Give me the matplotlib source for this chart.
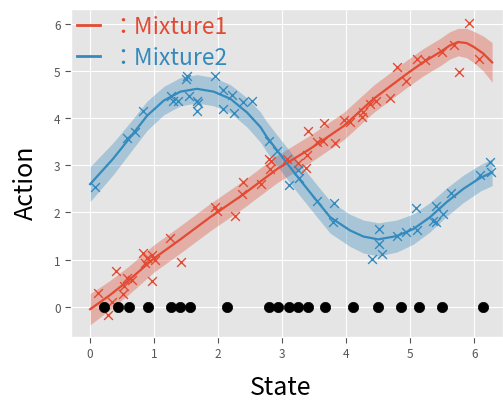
import numpy as np
import matplotlib
matplotlib.use("Agg")
import matplotlib.pyplot as plt

plt.style.use("ggplot")
plt.rcParams['font.family'] = ['Noto Sans CJK JP', 'DejaVu Sans']

# ---- fitted mean curves ----
red_x = [0.0, 0.3, 0.6, 1.0, 1.4, 1.875, 2.4, 2.92, 3.44, 3.96, 4.43, 4.95, 5.2, 5.47, 5.62, 5.75, 5.88, 5.99, 6.14, 6.28]
red_y = [-0.05, 0.24, 0.56, 1.03, 1.42, 1.90, 2.39, 2.92, 3.35, 3.83, 4.41, 4.94, 5.18, 5.40, 5.54, 5.61, 5.59, 5.51, 5.37, 5.18]
red_sd = [0.33, 0.31, 0.30, 0.29, 0.29, 0.29, 0.29, 0.29, 0.29, 0.29, 0.29, 0.29, 0.29, 0.29, 0.29, 0.29, 0.31, 0.33, 0.37, 0.42]

blue_x = [0.0, 0.36, 0.625, 0.89, 1.15, 1.41, 1.67, 1.93, 2.19, 2.45, 2.66, 2.76, 3.02, 3.25, 3.54, 3.75, 4.06, 4.27, 4.5,
          4.79, 5.05, 5.31, 5.57, 5.83, 6.09, 6.28]
blue_y = [2.60, 3.14, 3.59, 4.05, 4.37, 4.56, 4.62, 4.56, 4.41, 4.12, 3.81, 3.60, 3.14, 2.74, 2.25, 1.90, 1.62, 1.49, 1.43,
          1.50, 1.65, 1.90, 2.22, 2.50, 2.73, 2.85]
blue_sd = [0.37, 0.34, 0.32, 0.31, 0.30, 0.30, 0.30, 0.30, 0.30, 0.31, 0.32, 0.32, 0.33, 0.34, 0.34, 0.34, 0.34, 0.35, 0.35,
           0.34, 0.32, 0.31, 0.30, 0.29, 0.28, 0.28]

# ---- observations ----
red_obs_x = [0.13, 0.28, 0.34, 0.41, 0.51, 0.53, 0.57, 0.65, 0.83, 0.85, 0.89, 0.96, 1.02, 0.97, 1.25, 1.42,
             1.95, 1.98, 2.27, 2.37, 2.39, 2.67, 2.79, 2.82, 2.81, 3.07, 3.24, 3.39, 3.38, 3.40, 3.54, 3.64, 3.66,
             3.82, 3.96, 4.06, 4.24, 4.27, 4.38, 4.47, 4.68, 4.79, 4.93, 5.11, 5.23, 5.50, 5.69, 5.77, 5.92, 6.08]
red_obs_y = [0.30, -0.17, 0.10, 0.76, 0.28, 0.45, 0.61, 0.56, 1.14, 0.93, 1.03, 1.09, 1.00, 0.54, 1.46, 0.96,
             2.11, 2.04, 1.93, 2.39, 2.65, 2.61, 3.14, 3.10, 2.92, 3.14, 3.05, 3.21, 2.94, 3.72, 3.49, 3.52, 3.90,
             3.47, 3.95, 3.91, 4.02, 4.12, 4.30, 4.37, 4.42, 5.08, 4.79, 5.25, 5.23, 5.40, 5.54, 4.97, 6.01, 5.25]

blue_obs_x = [0.08, 0.57, 0.70, 0.82, 1.26, 1.29, 1.38, 1.51, 1.50, 1.54, 1.67, 1.69, 1.67, 1.95, 2.08, 2.21,
              2.08, 2.24, 2.39, 2.53, 2.79, 2.92, 3.11, 3.24, 3.27, 3.54, 3.81, 3.80, 4.40, 4.52, 4.52, 4.56,
              4.79, 4.94, 5.09, 5.11, 5.36, 5.41, 5.41, 5.52, 5.64, 6.09, 6.25, 6.26]
blue_obs_y = [2.54, 3.57, 3.71, 4.16, 4.46, 4.37, 4.37, 4.90, 4.82, 4.46, 4.37, 4.32, 4.14, 4.90, 4.60, 4.49,
              4.19, 4.10, 4.35, 4.37, 3.52, 3.31, 2.58, 2.90, 2.73, 2.25, 2.20, 1.79, 1.02, 1.64, 1.33, 1.12,
              1.50, 1.58, 2.09, 1.62, 1.83, 2.13, 1.79, 1.97, 2.42, 2.80, 3.07, 2.85]

# states shown as black dots on the zero line
dot_x = [0.21, 0.44, 0.60, 0.90, 1.27, 1.40, 1.56, 2.14, 2.79, 2.93, 3.10, 3.25, 3.40, 3.67, 4.10, 4.50,
         4.86, 5.14, 5.50, 6.13]

RED = '#E24A33'
BLUE = '#348ABD'

fig = plt.figure(figsize=(5.03, 4.02), dpi=100)
ax = fig.add_axes([0.141, 0.159, 0.859, 0.816])

rx, ry, rs = np.array(red_x), np.array(red_y), np.array(red_sd)
bx, by, bs = np.array(blue_x), np.array(blue_y), np.array(blue_sd)

ax.fill_between(rx, ry - rs, ry + rs, color=RED, alpha=0.35, lw=0)
ax.fill_between(bx, by - bs, by + bs, color=BLUE, alpha=0.35, lw=0)
ax.plot(rx, ry, color=RED, lw=1.6, label='：Mixture1')
ax.plot(bx, by, color=BLUE, lw=1.6, label='：Mixture2')

ax.scatter(red_obs_x, red_obs_y, marker='x', color=RED, s=40, lw=1.0, zorder=3)
ax.scatter(blue_obs_x, blue_obs_y, marker='x', color=BLUE, s=40, lw=1.0, zorder=3)
ax.scatter(dot_x, np.zeros(len(dot_x)), color='black', s=55, zorder=4)

ax.set_xlim(-0.3, 6.45)
ax.set_ylim(-0.64, 6.31)
ax.set_xticks([0, 1, 2, 3, 4, 5, 6])
ax.set_yticks([0, 1, 2, 3, 4, 5, 6])
ax.tick_params(labelsize=8.5, colors='#555555', length=4)

ax.set_xlabel('State', fontsize=18, color='black', va='center')
ax.set_ylabel('Action', fontsize=18, color='black', va='center')
ax.xaxis.set_label_coords(0.486, -0.152)
ax.yaxis.set_label_coords(-0.104, 0.473)

leg = ax.legend(loc='upper left', fontsize=16.5, frameon=False, handlelength=1.0,
                handletextpad=0.5, labelspacing=0.38, borderaxespad=0.0,
                labelcolor='linecolor', borderpad=0.25)
for h in leg.get_lines():
    h.set_linewidth(2)

fig.savefig('out.png', dpi=100)
